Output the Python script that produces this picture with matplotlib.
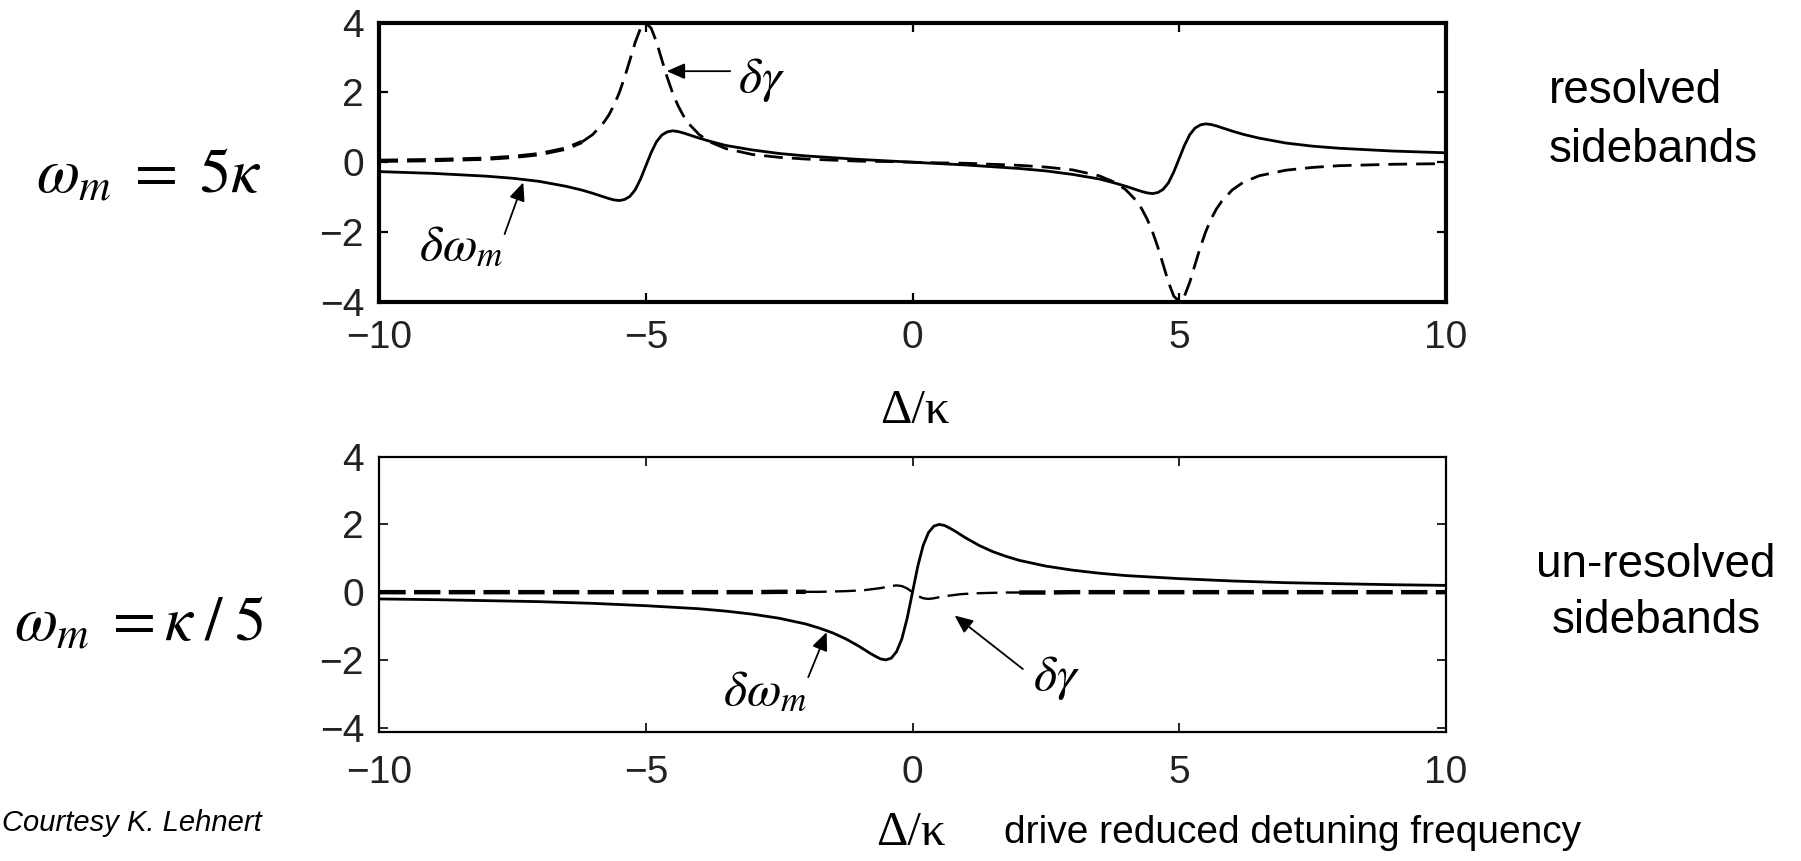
import matplotlib
matplotlib.use("Agg")
import matplotlib.pyplot as plt

# ---------------- data ----------------
xticks = [-10, -5, 0, 5, 10]
yticks = [-4, -2, 0, 2, 4]

# resolved sidebands, omega_m = 5 kappa
top_x = [-10, -9, -8, -7.5, -7, -6.5, -6.2, -6, -5.8, -5.7,
         -5.6, -5.5, -5.4, -5.3, -5.2, -5.1, -5, -4.9, -4.8, -4.7,
         -4.6, -4.5, -4.4, -4.3, -4.2, -4, -3.8, -3.5, -3, -2.5,
         -2, -1.5, -1, -0.5, 0,
         0.5, 1, 1.5, 2, 2.5, 3, 3.5, 3.8, 4, 4.2,
         4.3, 4.4, 4.5, 4.6, 4.7, 4.8, 4.9, 5, 5.1, 5.2,
         5.3, 5.4, 5.5, 5.6, 5.7, 5.8, 6, 6.2, 6.5, 7,
         7.5, 8, 9, 10]
top_shift = [-0.27, -0.32, -0.40, -0.46, -0.55, -0.69, -0.80, -0.89, -0.99, -1.04,
             -1.08, -1.10, -1.07, -0.98, -0.79, -0.48, -0.10, 0.28, 0.59, 0.78,
             0.87, 0.90, 0.88, 0.84, 0.79, 0.69, 0.60, 0.48, 0.35, 0.25,
             0.18, 0.13, 0.08, 0.04, 0.00,
             -0.04, -0.08, -0.13, -0.18, -0.25, -0.35, -0.48, -0.60, -0.69, -0.79,
             -0.84, -0.88, -0.90, -0.87, -0.78, -0.59, -0.28, 0.10, 0.48, 0.79,
             0.98, 1.07, 1.10, 1.08, 1.04, 0.99, 0.89, 0.80, 0.69, 0.55,
             0.46, 0.40, 0.32, 0.27]
top_damp = [0.04, 0.06, 0.10, 0.15, 0.23, 0.39, 0.58, 0.79, 1.12, 1.34,
            1.63, 1.99, 2.43, 2.93, 3.44, 3.84, 3.99, 3.84, 3.44, 2.93,
            2.43, 1.99, 1.63, 1.34, 1.11, 0.79, 0.58, 0.39, 0.22, 0.14,
            0.09, 0.06, 0.03, 0.02, 0.00,
            -0.02, -0.03, -0.06, -0.09, -0.14, -0.22, -0.39, -0.58, -0.79, -1.11,
            -1.34, -1.63, -1.99, -2.43, -2.93, -3.44, -3.84, -3.99, -3.84, -3.44,
            -2.93, -2.43, -1.99, -1.63, -1.34, -1.12, -0.79, -0.58, -0.39, -0.23,
            -0.15, -0.10, -0.06, -0.04]

# un-resolved sidebands, omega_m = kappa / 5
bot_x = [-10, -9, -8, -7, -6, -5, -4, -3.5, -3, -2.5,
         -2, -1.75, -1.5, -1.25, -1, -0.9, -0.8, -0.7, -0.6, -0.5,
         -0.4, -0.3, -0.2, -0.1, 0,
         0.1, 0.2, 0.3, 0.4, 0.5, 0.6, 0.7, 0.8, 0.9, 1,
         1.25, 1.5, 1.75, 2, 2.5, 3, 3.5, 4, 5, 6,
         7, 8, 9, 10]
bot_shift = [-0.20, -0.22, -0.25, -0.28, -0.33, -0.40, -0.49, -0.56, -0.65, -0.77,
             -0.94, -1.06, -1.20, -1.38, -1.60, -1.70, -1.80, -1.89, -1.97, -2.00,
             -1.95, -1.76, -1.38, -0.77, 0.00,
             0.77, 1.38, 1.76, 1.95, 2.00, 1.97, 1.89, 1.80, 1.70, 1.60,
             1.38, 1.20, 1.06, 0.94, 0.77, 0.65, 0.56, 0.49, 0.40, 0.33,
             0.28, 0.25, 0.22, 0.20]
bot_damp = [0.00, 0.00, 0.00, 0.00, 0.00, 0.00, 0.00, 0.00, 0.00, 0.01,
            0.01, 0.01, 0.02, 0.03, 0.05, 0.06, 0.08, 0.10, 0.12, 0.15,
            0.18, 0.20, 0.18, 0.11, 0.00,
            -0.11, -0.18, -0.20, -0.18, -0.15, -0.12, -0.10, -0.08, -0.06, -0.05,
            -0.03, -0.02, -0.01, -0.01, -0.01, 0.00, 0.00, 0.00, 0.00, 0.00,
            0.00, 0.00, 0.00, 0.00]

# ---------------- figure ----------------
W, H = 1801, 861
plt.rcParams['font.family'] = ['Liberation Sans', 'DejaVu Sans']
plt.rcParams['mathtext.fontset'] = 'stix'
plt.rcParams['lines.scale_dashes'] = False

fig = plt.figure(figsize=(W / 100, H / 100), dpi=100)
fig.patch.set_facecolor('white')


def fx(px):
    return px / W


def fy(py):
    return 1 - py / H


L, R = 379.3, 1445.7
ax1 = fig.add_axes([fx(L), fy(301.7), (R - L) / W, (301.7 - 22.7) / H])
ax2 = fig.add_axes([fx(L), fy(731.7), (R - L) / W, (731.7 - 456.7) / H])


def style(ax, spine_lw, tick_w, ylim, xpad):
    ax.set_xlim(-10, 10)
    ax.set_ylim(*ylim)
    ax.set_xticks(xticks)
    ax.set_yticks(yticks)
    for s in ax.spines.values():
        s.set_linewidth(spine_lw)
    ax.tick_params(direction='in', top=True, right=True, length=6.5,
                   width=tick_w, labelsize=28, colors='black')
    ax.tick_params(axis='x', pad=xpad)
    ax.tick_params(axis='y', pad=11)
    for lab in ax.get_xticklabels() + ax.get_yticklabels():
        lab.set_color('#222222')


style(ax1, 3.0, 1.6, (-4, 4), 13)
style(ax2, 1.6, 1.2, (-4.12, 4), 17)

# curves (top)
ax1.plot(top_x, top_shift, color='black', lw=2.0, solid_joinstyle='round')
ax1.plot(top_x[:7], top_damp[:7], color='black', lw=3.0, dashes=(13.5, 6.5))
ax1.plot(top_x[6:], top_damp[6:], color='black', lw=2.0, dashes=(13.5, 6.5))
# curves (bottom)
ax2.plot(bot_x, bot_shift, color='black', lw=2.0, solid_joinstyle='round')
ax2.plot(bot_x[:11], bot_damp[:11], color='black', lw=3.2, dashes=(19, 6))
ax2.plot(bot_x[10:39], bot_damp[10:39], color='black', lw=1.7, dashes=(15, 6))
ax2.plot(bot_x[38:], bot_damp[38:], color='black', lw=3.2, dashes=(19, 6))

arrow = dict(arrowstyle='-|>,head_length=0.55,head_width=0.24', lw=1.3,
             color='black', shrinkA=0, shrinkB=0, mutation_scale=20)
ann_fs = 36

# top annotations
ax1.annotate('', xy=(-4.61, 2.61), xytext=(-3.42, 2.61), arrowprops=arrow)
ax1.text(-3.28, 2.0, r'$\delta\gamma$', fontsize=ann_fs, ha='left', va='baseline')
ax1.annotate('', xy=(-7.30, -0.58), xytext=(-7.65, -2.06), arrowprops=arrow)
ax1.text(-9.26, -2.8, r'$\delta\omega_m$', fontsize=ann_fs, ha='left', va='baseline')

# bottom annotations
ax2.annotate('', xy=(-1.61, -1.18), xytext=(-1.955, -2.51), arrowprops=arrow)
ax2.text(-3.56, -3.3, r'$\delta\omega_m$', fontsize=ann_fs, ha='left', va='baseline')
ax2.annotate('', xy=(0.79, -0.69), xytext=(2.07, -2.27), arrowprops=arrow)
ax2.text(2.26, -2.9, r'$\delta\gamma$', fontsize=ann_fs, ha='left', va='baseline')

# left labels
fig.text(fx(36), fy(192), r'$\omega_m\;=\;5\kappa$', fontsize=45,
         ha='left', va='baseline')
fig.text(fx(14), fy(640), r'$\omega_m\;=\kappa\;/\;5$', fontsize=45,
         ha='left', va='baseline')

# x-axis labels
serif = ['Liberation Serif', 'DejaVu Serif']
fig.text(fx(915), fy(423), 'Δ/κ', fontsize=35, family=serif,
         ha='center', va='baseline')
fig.text(fx(876), fy(845), 'Δ/κ', fontsize=35, family=serif,
         ha='left', va='baseline')
fig.text(fx(1004), fy(843), 'drive reduced detuning frequency', fontsize=28,
         ha='left', va='baseline')

# right labels
fig.text(fx(1549), fy(103), 'resolved', fontsize=33, ha='left', va='baseline')
fig.text(fx(1549), fy(162), 'sidebands', fontsize=33, ha='left', va='baseline')
fig.text(fx(1656), fy(577), 'un-resolved', fontsize=33, ha='center', va='baseline')
fig.text(fx(1656), fy(633), 'sidebands', fontsize=33, ha='center', va='baseline')

# credit
fig.text(fx(2), fy(831), 'Courtesy K. Lehnert', fontsize=21, style='italic',
         ha='left', va='baseline')

fig.savefig('out.png', dpi=100, facecolor='white')
